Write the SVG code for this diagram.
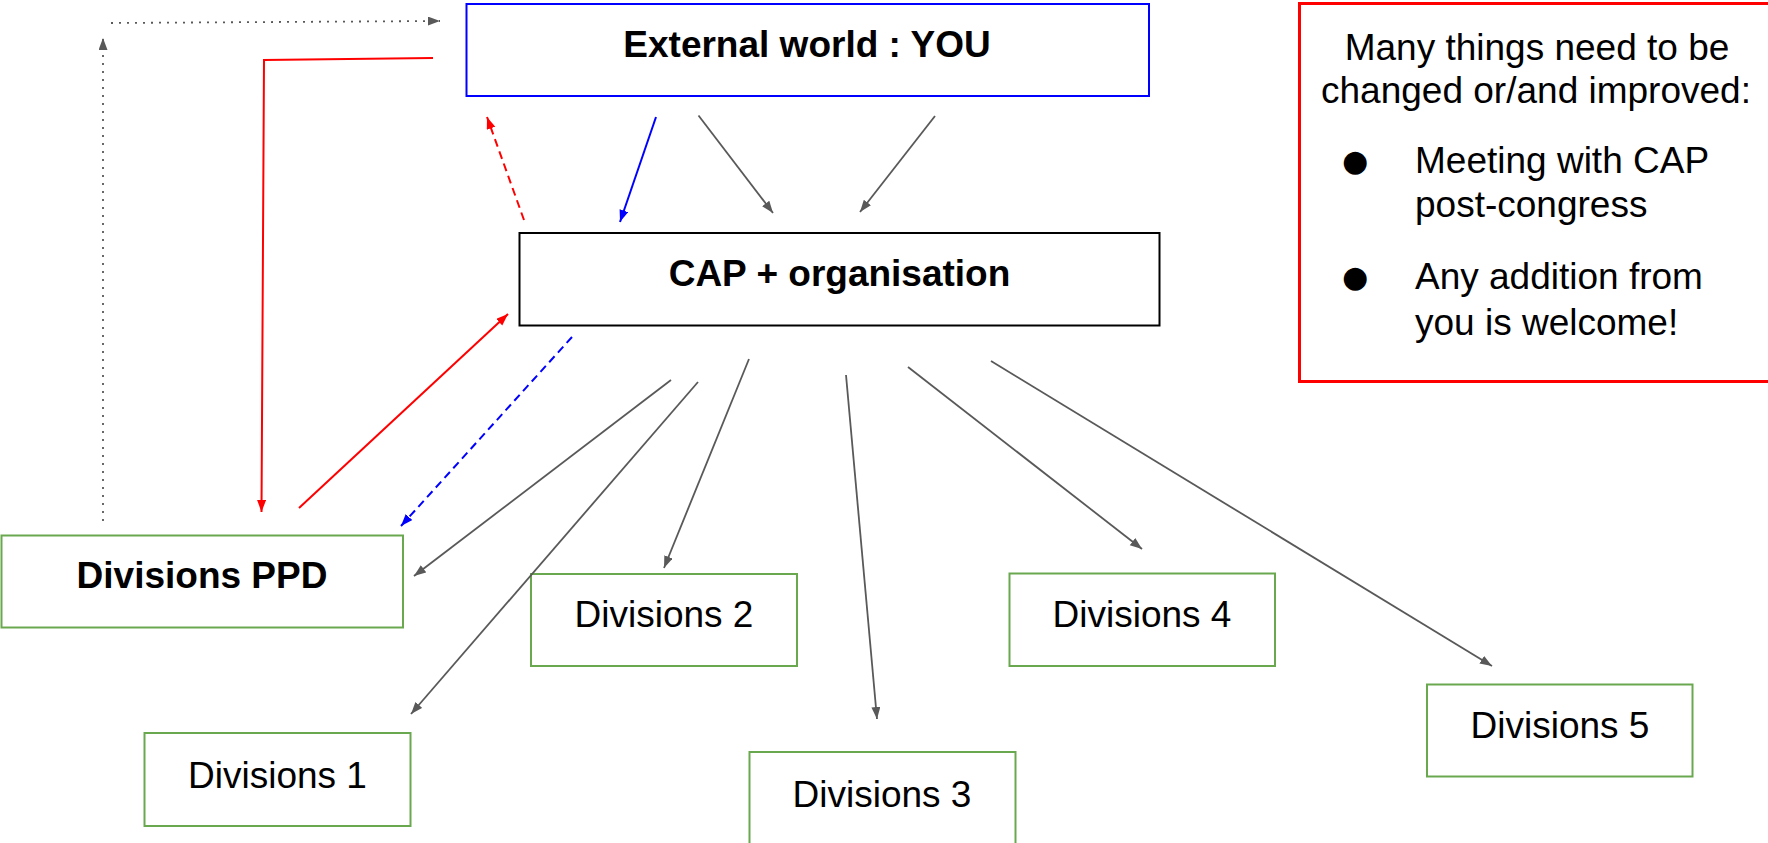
<svg xmlns="http://www.w3.org/2000/svg" width="1768" height="843" viewBox="0 0 1768 843">
<style>
.t{font-family:"Liberation Sans",Arial,sans-serif;font-size:37px;fill:#000;text-anchor:middle}
.b{font-weight:bold}
.nt{font-family:"Liberation Sans",Arial,sans-serif;font-size:37px;fill:#000}
.bu{font-family:"DejaVu Sans",sans-serif;font-size:30px;fill:#000;text-anchor:middle}
.div{fill:#fff;stroke:#6aa84f;stroke-width:2}
.g{stroke:#595959;stroke-width:1.8;fill:none}
.r{stroke:#ff0000;stroke-width:2;fill:none}
.bl{stroke:#0000ff;stroke-width:2;fill:none}
</style>
<defs>
<marker id="ag" markerUnits="userSpaceOnUse" markerWidth="12" markerHeight="10" refX="12" refY="4.5" orient="auto"><path d="M0,0 L12,4.5 L0,9 z" fill="#595959"/></marker>
<marker id="ar" markerUnits="userSpaceOnUse" markerWidth="12" markerHeight="10" refX="12" refY="4.5" orient="auto"><path d="M0,0 L12,4.5 L0,9 z" fill="#ff0000"/></marker>
<marker id="ab" markerUnits="userSpaceOnUse" markerWidth="12" markerHeight="10" refX="12" refY="4.5" orient="auto"><path d="M0,0 L12,4.5 L0,9 z" fill="#0000ff"/></marker>
</defs>
<rect width="1768" height="843" fill="#fff"/>
<g id="external">
<rect x="466.5" y="4" width="682.5" height="92" fill="#fff" stroke="#0000ff" stroke-width="2"/>
<text class="t b" x="807" y="57.3">External world : YOU</text>
</g>
<g id="cap">
<rect x="519.5" y="233" width="640" height="92.5" fill="#fff" stroke="#000" stroke-width="2"/>
<text class="t b" x="839.5" y="286">CAP + organisation</text>
</g>
<g id="note">
<rect x="1299.5" y="3.5" width="480" height="378" fill="#fff" stroke="#ff0000" stroke-width="3"/>
<text class="t" x="1537" y="60">Many things need to be</text>
<text class="t" x="1536" y="103">changed or/and improved:</text>
<text class="bu" x="1355" y="171">●</text>
<text class="nt" x="1415" y="173">Meeting with CAP</text>
<text class="nt" x="1415" y="217">post-congress</text>
<text class="bu" x="1355" y="287">●</text>
<text class="nt" x="1415" y="289">Any addition from</text>
<text class="nt" x="1415" y="335">you is welcome!</text>
</g>
<g id="ppd">
<rect class="div" x="1.5" y="535.5" width="401.5" height="92"/>
<text class="t b" x="202" y="588">Divisions PPD</text>
</g>
<g id="div1">
<rect class="div" x="144.5" y="733" width="266" height="93"/>
<text class="t" x="277.5" y="787.7">Divisions 1</text>
</g>
<g id="div2">
<rect class="div" x="531" y="574" width="266" height="92"/>
<text class="t" x="664" y="627">Divisions 2</text>
</g>
<g id="div3">
<rect class="div" x="749.5" y="752" width="266" height="100"/>
<text class="t" x="882" y="806.7">Divisions 3</text>
</g>
<g id="div4">
<rect class="div" x="1009.5" y="573.5" width="265.5" height="92.5"/>
<text class="t" x="1142" y="627">Divisions 4</text>
</g>
<g id="div5">
<rect class="div" x="1427" y="684.5" width="265.5" height="92"/>
<text class="t" x="1560" y="738">Divisions 5</text>
</g>
<g id="connectors">
<line class="g" x1="103" y1="521" x2="103" y2="38" stroke-dasharray="2,6" marker-end="url(#ag)"/>
<line class="g" x1="111" y1="23" x2="440" y2="21" stroke-dasharray="2,6" marker-end="url(#ag)"/>
<path class="r" d="M433,58 L264,60 L261.5,512" marker-end="url(#ar)"/>
<line class="r" x1="524" y1="220" x2="487" y2="117" stroke-dasharray="8,5" marker-end="url(#ar)"/>
<line class="bl" x1="656" y1="117" x2="620" y2="222" marker-end="url(#ab)"/>
<line class="g" x1="698.5" y1="115.5" x2="773" y2="213" marker-end="url(#ag)"/>
<line class="g" x1="935" y1="116" x2="860" y2="212" marker-end="url(#ag)"/>
<line class="r" x1="299" y1="508" x2="508" y2="314" marker-end="url(#ar)"/>
<line class="bl" x1="572" y1="337" x2="401" y2="526" stroke-dasharray="8,5" marker-end="url(#ab)"/>
<line class="g" x1="671" y1="380" x2="414" y2="576" marker-end="url(#ag)"/>
<line class="g" x1="698" y1="382" x2="411" y2="714" marker-end="url(#ag)"/>
<line class="g" x1="749" y1="359" x2="664" y2="568" marker-end="url(#ag)"/>
<line class="g" x1="846" y1="375" x2="877" y2="719" marker-end="url(#ag)"/>
<line class="g" x1="908" y1="367" x2="1142" y2="549" marker-end="url(#ag)"/>
<line class="g" x1="991" y1="361" x2="1492" y2="666" marker-end="url(#ag)"/>
</g>
</svg>
